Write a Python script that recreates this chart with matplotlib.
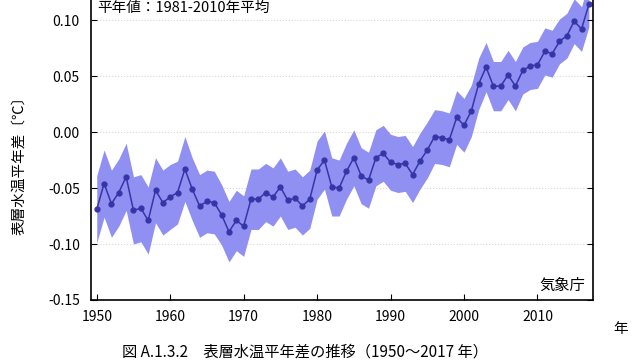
import matplotlib
matplotlib.use("Agg")
import matplotlib.pyplot as plt

plt.rcParams['font.family'] = ['Noto Sans CJK JP', 'DejaVu Sans']

# annual sea surface temperature anomaly (deg C), 1950-2017
years = list(range(1950, 2018))
anomaly = [
    -0.069, -0.046, -0.064, -0.054, -0.040, -0.070, -0.068, -0.079, -0.052, -0.063,
    -0.058, -0.054, -0.033, -0.051, -0.066, -0.062, -0.063, -0.074, -0.089, -0.079,
    -0.084, -0.060, -0.060, -0.054, -0.058, -0.049, -0.061, -0.059, -0.066, -0.060,
    -0.034, -0.025, -0.049, -0.050, -0.035, -0.023, -0.039, -0.043, -0.023, -0.019,
    -0.027, -0.029, -0.028, -0.038, -0.026, -0.016, -0.004, -0.005, -0.007, 0.013,
    0.006, 0.019, 0.043, 0.058, 0.041, 0.041, 0.051, 0.041, 0.055, 0.059,
    0.060, 0.072, 0.070, 0.081, 0.086, 0.099, 0.092, 0.114,
]
# half width of the shaded uncertainty band
spread = [
    0.030, 0.030, 0.030, 0.030, 0.030, 0.030, 0.030, 0.030, 0.029, 0.029,
    0.029, 0.028, 0.029, 0.028, 0.028, 0.028, 0.028, 0.027, 0.027, 0.027,
    0.027, 0.027, 0.027, 0.026, 0.026, 0.026, 0.026, 0.026, 0.026, 0.026,
    0.026, 0.026, 0.026, 0.025, 0.025, 0.025, 0.025, 0.025, 0.025, 0.025,
    0.025, 0.025, 0.025, 0.025, 0.025, 0.025, 0.024, 0.024, 0.024, 0.024,
    0.024, 0.023, 0.023, 0.022, 0.022, 0.022, 0.022, 0.022, 0.021, 0.021,
    0.021, 0.021, 0.021, 0.020, 0.020, 0.020, 0.020, 0.020,
]

lower = [a - s for a, s in zip(anomaly, spread)]
upper = [a + s for a, s in zip(anomaly, spread)]

fig = plt.figure(figsize=(6.4, 3.6), dpi=100)
ax = fig.add_axes([0.142, 0.1667, 0.785, 0.933])

ax.fill_between(years, lower, upper, color='#9090f2', linewidth=0)
ax.plot(years, anomaly, color='#3535a8', linewidth=1.1, marker='o', markersize=3.5)

ax.set_xlim(1949.2, 2017.6)
ax.set_ylim(-0.15, 0.15)
ax.set_xticks(range(1950, 2011, 10))
ax.set_yticks([-0.15, -0.10, -0.05, 0.00, 0.05, 0.10])
ax.set_yticklabels(['-0.15', '-0.10', '-0.05', '0.00', '0.05', '0.10'])
ax.tick_params(direction='in', labelsize=10, right=True, length=4)
ax.tick_params(axis='x', pad=7)
ax.tick_params(axis='y', pad=8)
for y in [-0.10, -0.05, 0.00, 0.05, 0.10]:
    ax.axhline(y, color='#d8d8d8', linewidth=0.8, linestyle=':', zorder=0)
for s in ax.spines.values():
    s.set_linewidth(1.2)

ax.set_ylabel('表層水温平年差〔℃〕', fontsize=10.5, va='center')
ax.yaxis.set_label_coords(-0.142, 0.41)
fig.text(0.152, 0.977, '平年値：1981-2010年平均', fontsize=10.5, va='center')
fig.text(0.914, 0.208, '気象庁', fontsize=11, ha='right', va='center')
fig.text(0.970, 0.085, '年', fontsize=10.5, ha='center', va='center')
fig.text(0.476, 0.022, '図 A.1.3.2　表層水温平年差の推移（1950～2017 年）', fontsize=11,
         ha='center', va='center')

fig.savefig('out.png', dpi=100)
